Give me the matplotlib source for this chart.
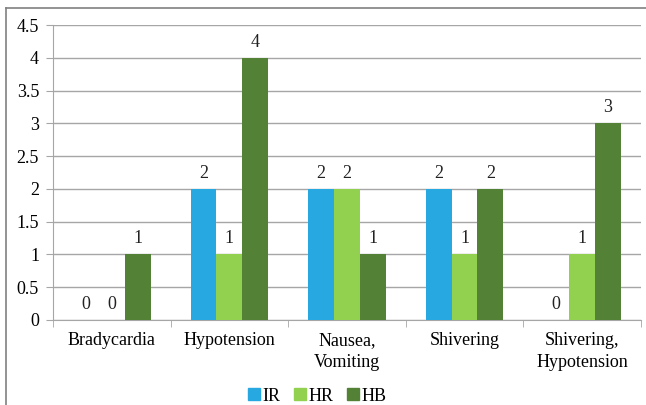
import numpy as np
import matplotlib.pyplot as plt
from matplotlib.lines import Line2D

plt.rcParams['font.family'] = ['Liberation Serif', 'DejaVu Serif']

# Side effects per group
categories = ["Bradycardia", "Hypotension", "Nausea,\nVomiting", "Shivering", "Shivering,\nHypotension"]
series = ["IR", "HR", "HB"]
ir = [0, 2, 2, 2, 0]
hr = [0, 1, 2, 1, 1]
hb = [1, 4, 1, 2, 3]
colors = ["#27A8E0", "#92D050", "#538135"]

fig = plt.figure(figsize=(6.46, 4.05), dpi=100)
ax = fig.add_axes([0.082, 0.21, 0.91, 0.728])

x = np.arange(len(categories))
w = 0.22
for i, (name, vals, c) in enumerate(zip(series, [ir, hr, hb], colors)):
    pos = x + (i - 1) * w
    ax.bar(pos, vals, width=w, color=c, label=name, zorder=3)
    for p, v in zip(pos, vals):
        ax.annotate(str(v), (p, v), xytext=(0, 5), textcoords="offset points",
                    ha="center", va="bottom", fontsize=13, color="#222222")

ax.set_xlim(-0.5, len(categories) - 0.5)
ax.set_ylim(0, 4.5)
ax.set_yticks(np.arange(0, 4.51, 0.5))
ax.set_yticklabels(["0", "0.5", "1", "1.5", "2", "2.5", "3", "3.5", "4", "4.5"])
ax.yaxis.grid(True, color="#A6A6A6", linewidth=1, zorder=0)

ax.set_xticks(x)
ax.set_xticklabels(categories, fontsize=13, linespacing=1.35)
ax.set_xticks(np.arange(-0.5, len(categories)), minor=True)
ax.tick_params(axis="x", which="major", length=0, pad=9)
ax.tick_params(axis="x", which="minor", length=5, color="#A6A6A6")
ax.tick_params(axis="y", length=5, color="#A6A6A6", labelsize=13, pad=5)

for s in ["top", "right"]:
    ax.spines[s].set_visible(False)
ax.spines["left"].set_color("#A6A6A6")
ax.spines["bottom"].set_color("#A6A6A6")

handles = [Line2D([], [], marker="s", linestyle="none", markersize=8,
                  markerfacecolor=c, markeredgecolor=c) for c in colors]
fig.legend(handles, series, loc="center", bbox_to_anchor=(0.49, 0.022), ncol=3,
           frameon=False, fontsize=13, handletextpad=0.05, columnspacing=0.7,
           handlelength=0.8)

# outer frame
fig.add_artist(Line2D([6 / 646, 6 / 646], [0, 1 - 8 / 405], transform=fig.transFigure,
                      color="#808080", linewidth=1.2))
fig.add_artist(Line2D([6 / 646, 1], [1 - 8 / 405, 1 - 8 / 405], transform=fig.transFigure,
                      color="#808080", linewidth=1.2))

fig.savefig("out.png", dpi=100)
